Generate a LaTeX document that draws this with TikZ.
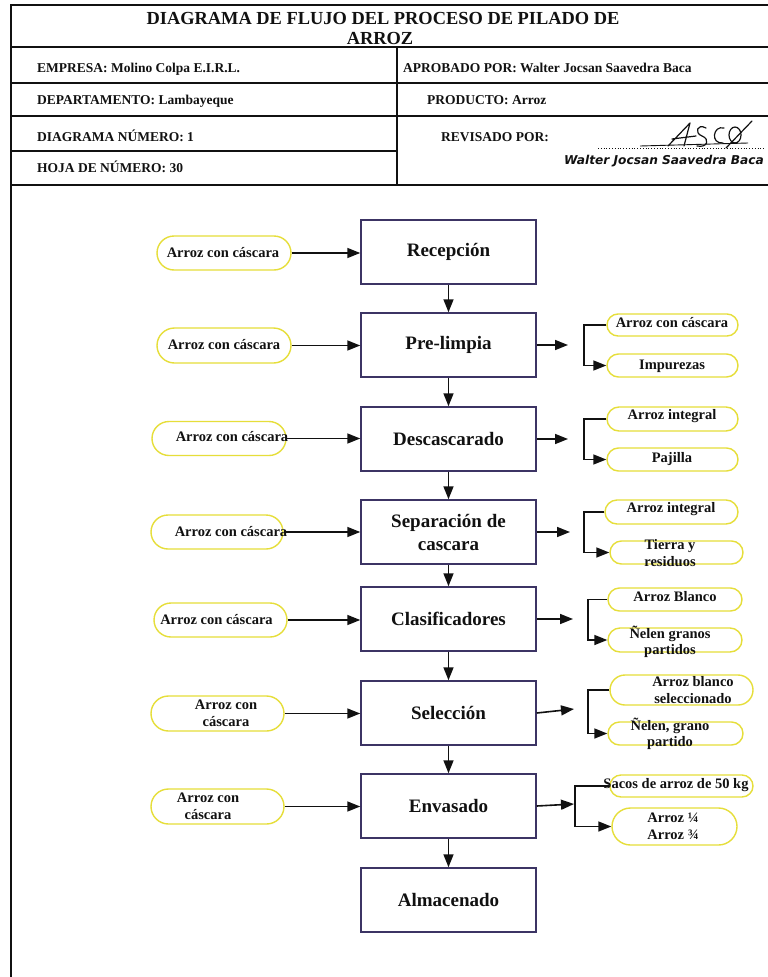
\documentclass[tikz,border=0pt]{standalone}
\usepackage{fontspec}
\setmainfont{Liberation Serif}
\newfontfamily\sigfont{DejaVu Sans}
\usetikzlibrary{arrows.meta,shapes.misc}
\definecolor{pillc}{HTML}{E6DE3A}
\definecolor{boxc}{HTML}{3C3464}
\definecolor{ink}{HTML}{111111}
\begin{document}
\begin{tikzpicture}[x=1pt,y=-1pt,
  box/.style={draw=boxc, line width=1.5pt, fill=white, minimum width=175pt, minimum height=64pt, inner sep=0pt, align=center, text=ink, font=\fontsize{19}{23}\selectfont\bfseries},
  pill/.style={draw=pillc, line width=1.4pt, rounded rectangle, inner sep=0pt},
  ptxt/.style={font=\fontsize{14.5}{16.5}\selectfont\bfseries, inner sep=0pt, align=center, text=ink},
  htxt/.style={font=\fontsize{13.5}{15}\selectfont\bfseries, inner sep=0pt, anchor=base west, text=ink},
  arr/.style={line width=1.6pt, draw=ink, -{Triangle[length=13pt,width=10pt]}},
  ln/.style={line width=1.6pt, draw=ink},
  frame/.style={line width=2.6pt, draw=ink}
]
\useasboundingbox (0,0) rectangle (768,977);
\clip (0,0) rectangle (768,977);
\fill[white] (0,0) rectangle (768,977);

% ---------- frame and header ----------
\draw[frame] (11,977) -- (11,5) -- (768,5);
\draw[ln] (11,47) -- (768,47);
\draw[ln] (11,83) -- (768,83);
\draw[ln] (11,116) -- (768,116);
\draw[ln] (11,151) -- (397,151);
\draw[ln] (11,185) -- (768,185);
\draw[ln] (397,47) -- (397,185);

\node[font=\fontsize{18.4}{20}\selectfont\bfseries, inner sep=0pt, anchor=base, text=ink] (title1) at (383,24) {DIAGRAMA DE FLUJO DEL PROCESO DE PILADO DE};
\node[font=\fontsize{18.4}{20}\selectfont\bfseries, inner sep=0pt, anchor=base, text=ink] (title2) at (380,44) {ARROZ};

\node[htxt] (h1) at (37,72) {EMPRESA: Molino Colpa E.I.R.L.};
\node[htxt] (h2) at (403,72) {APROBADO POR: Walter Jocsan Saavedra Baca};
\node[htxt] (h3) at (37,104) {DEPARTAMENTO: Lambayeque};
\node[htxt] (h4) at (427,104) {PRODUCTO: Arroz};
\node[htxt] (h5) at (37,141) {DIAGRAMA NÚMERO: 1};
\node[htxt] (h6) at (441,141) {REVISADO POR:};
\node[htxt] (h7) at (37,172) {HOJA DE NÚMERO: 30};

% signature
\draw[ink, line width=0.8pt, dotted] (598,148) -- (765,148);
\draw[ink, line width=0.9pt] (640,146) -- (748,143);
\draw[ink, line width=1.2pt, line cap=round, line join=round]
  (668,146) -- (690,123) -- (684,146)
  (672,139) -- (696,136)
  (706,128) .. controls (697,123) and (694,133) .. (702,136) .. controls (710,139) and (708,148) .. (697,146)
  (724,128) .. controls (713,125) and (710,144) .. (723,143)
  (726,148) -- (752,121);
\draw[ink, line width=1.2pt] (735,135) ellipse [x radius=6, y radius=8];
\node[font=\sigfont\fontsize{12.2}{14}\selectfont\bfseries\itshape, inner sep=0pt, anchor=base west, text=ink] (sig) at (564,164) {Walter Jocsan Saavedra Baca};

% ---------- main process boxes ----------
\node[box] (b1) at (448.5,252) {Recepción};
\node[box] (b2) at (448.5,345) {Pre-limpia};
\node[box] (b3) at (448.5,439) {Descascarado};
\node[box] (b4) at (448.5,532) {Separación de\\cascara};
\node[box] (b5) at (448.5,619) {Clasificadores};
\node[box] (b6) at (448.5,713) {Selección};
\node[box] (b7) at (448.5,806) {Envasado};
\node[box] (b8) at (448.5,900) {Almacenado};

\foreach \a/\b in {b1/b2,b2/b3,b3/b4,b4/b5,b5/b6,b6/b7,b7/b8}
  \draw[arr] (\a.south) -- (\b.north);

% ---------- left inputs ----------
\node[pill, minimum width=134pt, minimum height=34pt] (L1) at (224,253) {};
\node[pill, minimum width=134pt, minimum height=35pt] (L2) at (224,345.5) {};
\node[pill, minimum width=134pt, minimum height=34pt] (L3) at (219,438.5) {};
\node[pill, minimum width=132pt, minimum height=34pt] (L4) at (217,532) {};
\node[pill, minimum width=133pt, minimum height=34pt] (L5) at (220.5,620) {};
\node[pill, minimum width=133pt, minimum height=35pt] (L6) at (217.5,713.5) {};
\node[pill, minimum width=133pt, minimum height=35pt] (L7) at (217.5,806.5) {};

\node[ptxt] (tL1) at (223,253) {Arroz con cáscara};
\node[ptxt] (tL2) at (224,345) {Arroz con cáscara};
\node[ptxt] (tL3) at (232,437) {Arroz con cáscara};
\node[ptxt] (tL4) at (231,532) {Arroz con cáscara};
\node[ptxt] (tL5) at (216.5,620) {Arroz con cáscara};
\node[ptxt] (tL6) at (226,713.5) {Arroz con\\cáscara};
\node[ptxt] (tL7) at (208,806.5) {Arroz con\\cáscara};

\draw[arr] (L1.east) -- (L1.east -| b1.west);
\draw[arr] (L2.east) -- (L2.east -| b2.west);
\draw[arr] (L3.east) -- (L3.east -| b3.west);
\draw[arr] (L4.east) -- (L4.east -| b4.west);
\draw[arr] (L5.east) -- (L5.east -| b5.west);
\draw[arr] (L6.east) -- (L6.east -| b6.west);
\draw[arr] (L7.east) -- (L7.east -| b7.west);

% ---------- right outputs ----------
\node[pill, minimum width=131pt, minimum height=22pt] (R2a) at (672.5,325) {};
\node[pill, minimum width=131pt, minimum height=23pt] (R2b) at (672.5,365.5) {};
\node[pill, minimum width=131pt, minimum height=24pt] (R3a) at (672.5,419) {};
\node[pill, minimum width=131pt, minimum height=23pt] (R3b) at (672.5,459.5) {};
\node[pill, minimum width=133pt, minimum height=24pt] (R4a) at (671.5,512) {};
\node[pill, minimum width=133pt, minimum height=23pt] (R4b) at (676.5,552.5) {};
\node[pill, minimum width=134pt, minimum height=23pt] (R5a) at (675,599.5) {};
\node[pill, minimum width=134pt, minimum height=24pt] (R5b) at (675,640) {};
\node[pill, minimum width=143pt, minimum height=30pt] (R6a) at (681.5,690) {};
\node[pill, minimum width=135pt, minimum height=23pt] (R6b) at (675.5,733.5) {};
\node[pill, minimum width=143pt, minimum height=22pt] (R7a) at (681.5,786) {};
\node[pill, minimum width=125pt, minimum height=37pt] (R7b) at (674.5,826.5) {};

\node[ptxt] (tR2a) at (672,323) {Arroz con cáscara};
\node[ptxt] (tR2b) at (672,366) {Impurezas};
\node[ptxt] (tR3a) at (672,416) {Arroz integral};
\node[ptxt] (tR3b) at (672,459) {Pajilla};
\node[ptxt] (tR4a) at (671,509) {Arroz integral};
\node[ptxt] (tR4b) at (670,553) {Tierra y\\residuos};
\node[ptxt] (tR5a) at (675,597) {Arroz Blanco};
\node[ptxt] (tR5b) at (670,642) {Ñelen granos\\partidos};
\node[ptxt] (tR6a) at (693,690) {Arroz blanco\\seleccionado};
\node[ptxt] (tR6b) at (670,734) {Ñelen, grano\\partido};
\node[ptxt] (tR7a) at (676,785) {Sacos de arroz de 50 kg};
\node[ptxt] (tR7b) at (673,826.5) {Arroz ¼\\Arroz ¾};

\coordinate (a2) at (568,345);   \coordinate (k2) at (584,345);
\coordinate (a3) at (568,439);   \coordinate (k3) at (584,439);
\coordinate (a4) at (570,532);   \coordinate (k4) at (584,532);
\coordinate (a5) at (573,619);   \coordinate (k5) at (588,619);
\coordinate (a6) at (574,709);   \coordinate (k6) at (588,709);
\coordinate (a7) at (574,804);   \coordinate (k7) at (575,806);

\draw[arr] (b2.east) -- (a2);
\draw[arr] (b3.east) -- (a3);
\draw[arr] (b4.east) -- (a4);
\draw[arr] (b5.east) -- (a5);
\draw[arr] (b6.east) -- (a6);
\draw[arr] (b7.east) -- (a7);

\draw[arr] (R2a.west) -| (k2) |- (R2b.west);
\draw[arr] (R3a.west) -| (k3) |- (R3b.west);
\draw[arr] (R4a.west) -| (k4) |- (R4b.west);
\draw[arr] (R5a.west) -| (k5) |- (R5b.west);
\draw[arr] (R6a.west) -| (k6) |- (R6b.west);
\draw[arr] (R7a.west) -| (k7) |- (R7b.west);
\end{tikzpicture}
\end{document}
